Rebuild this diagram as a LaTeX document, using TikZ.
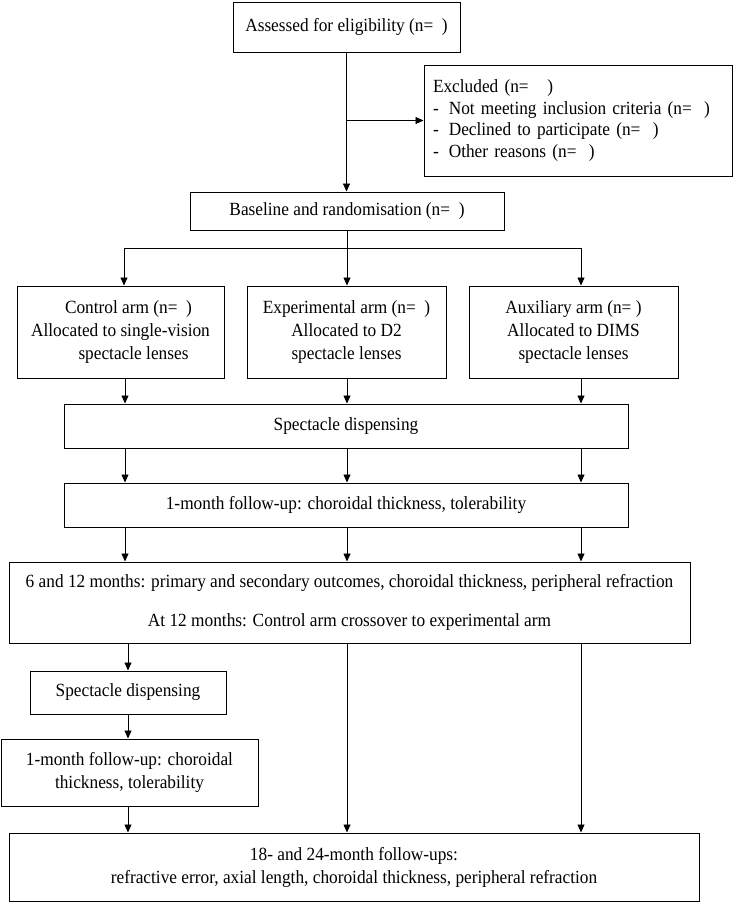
\documentclass[tikz,border=0pt]{standalone}
\usepackage{fontspec}
\setmainfont{Liberation Serif}[FakeStretch=0.93]
\usetikzlibrary{arrows.meta}
\newcommand{\fs}{\fontsize{18.6}{23}\selectfont}
\tikzset{
  box/.style={draw, line width=1pt, rectangle, inner sep=0pt, align=center, font=\fs},
  arr/.style={-{Triangle[length=8pt,width=7pt]}, line width=0.8pt},
  ln/.style={line width=0.8pt}
}
\begin{document}
\begin{tikzpicture}[x=1pt,y=-1pt]
\useasboundingbox (0,0) rectangle (733,903);
\fill[white] (0,0) rectangle (733,903);

\node[box, minimum width=227pt, minimum height=50pt] (assess) at (346.5,27) {Assessed for eligibility (n=\ \ )};
\node[box, align=left, text width=290pt, inner xsep=9pt, minimum height=111pt, font=\fontsize{18.6}{21.5}\selectfont] (excl) at (578,120.5)
  {Excluded (n=\ \ \ )\\
   -\hspace{10pt}Not meeting inclusion criteria (n=\ \ )\\
   -\hspace{10pt}Declined to participate (n=\ \ )\\
   -\hspace{10pt}Other reasons (n=\ \ )};
\node[box, minimum width=314pt, minimum height=38pt] (base) at (347,211) {Baseline and randomisation (n=\ \ )};

\node[box, minimum width=207pt, minimum height=92pt] (ctrl) at (120.5,332)
  {\hspace*{16pt}Control arm (n=\ \ )\\ Allocated to single-vision\\ \hspace*{26pt}spectacle lenses};
\node[box, minimum width=199pt, minimum height=92pt] (exper) at (346.5,332)
  {Experimental arm (n=\ \ )\\ Allocated to D2\\ spectacle lenses};
\node[box, minimum width=209pt, minimum height=92pt] (aux) at (573.5,332)
  {Auxiliary arm (n= )\\ Allocated to DIMS\\ spectacle lenses};

\node[box, minimum width=564pt, minimum height=44pt] (spec) at (346,426) {Spectacle dispensing};
\node[box, minimum width=564pt, minimum height=44pt] (month) at (346,505) {1-month follow-up: choroidal thickness, tolerability};
\node[box, minimum width=681pt, minimum height=81pt] (six) at (349.5,602.5)
  {6 and 12 months: primary and secondary outcomes, choroidal thickness, peripheral refraction\\[16pt]
   At 12 months: Control arm crossover to experimental arm};
\node[box, minimum width=196pt, minimum height=43pt] (spec2) at (128,692.5) {Spectacle dispensing};
\node[box, minimum width=257pt, minimum height=67pt] (month2) at (129.5,772.5)
  {1-month follow-up: choroidal\\ thickness, tolerability};
\node[box, minimum width=690pt, minimum height=68pt] (final) at (354,867)
  {18- and 24-month follow-ups:\\ refractive error, axial length, choroidal thickness, peripheral refraction};

\coordinate (colL) at (125,0);
\coordinate (colM) at (347,0);
\coordinate (colR) at (581,0);
\coordinate (colB) at (128,0);
\coordinate (brL) at (124,248);
\coordinate (brM) at (347,248);
\coordinate (brR) at (581,248);

\draw[arr] (assess.south) -- (assess.south |- base.north);
\draw[arr] (assess.south |- excl.west) -- (excl.west);

\draw[ln] (base.south -| brM) -- (brM);
\draw[ln] (brL) -- (brR);
\draw[arr] (brL) -- (brL |- ctrl.north);
\draw[arr] (brM) -- (brM |- exper.north);
\draw[arr] (brR) -- (brR |- aux.north);

\draw[arr] (ctrl.south -| colL) -- (spec.north -| colL);
\draw[arr] (exper.south -| colM) -- (spec.north -| colM);
\draw[arr] (aux.south -| colR) -- (spec.north -| colR);

\draw[arr] (spec.south -| colL) -- (month.north -| colL);
\draw[arr] (spec.south -| colM) -- (month.north -| colM);
\draw[arr] (spec.south -| colR) -- (month.north -| colR);

\draw[arr] (month.south -| colL) -- (six.north -| colL);
\draw[arr] (month.south -| colM) -- (six.north -| colM);
\draw[arr] (month.south -| colR) -- (six.north -| colR);

\draw[arr] (six.south -| colB) -- (spec2.north -| colB);
\draw[arr] (spec2.south -| colB) -- (month2.north -| colB);
\draw[arr] (month2.south -| colB) -- (final.north -| colB);
\draw[arr] (six.south -| colM) -- (final.north -| colM);
\draw[arr] (six.south -| colR) -- (final.north -| colR);
\end{tikzpicture}
\end{document}
